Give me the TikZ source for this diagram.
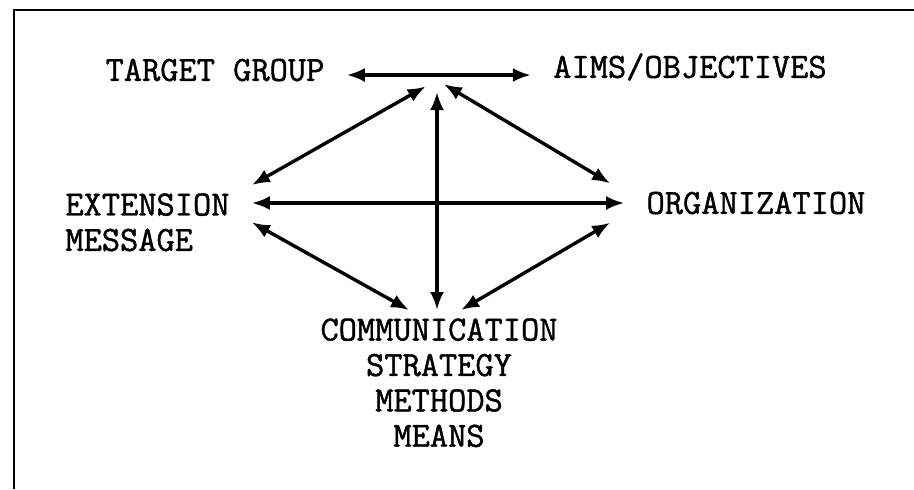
\documentclass[tikz,border=0pt]{standalone}
\usepackage{fontspec}
\newfontfamily\typefont[FakeBold=1.2]{Latin Modern Mono}
\usetikzlibrary{arrows.meta}

\begin{document}
\begin{tikzpicture}[
      x=0.5pt, y=-0.5pt,
      txt/.style={font=\typefont\fontsize{17.7pt}{17.7pt}\selectfont, inner xsep=11pt, inner ysep=4pt},
      line/.style={{Latex[length=9pt,width=7pt]}-{Latex[length=9pt,width=7pt]}, line width=1.7pt},
      frame/.style={line width=1.3pt}
    ]
    \useasboundingbox (0,0) rectangle (914,489);
    \draw[frame] (14,489) -- (14,10) -- (914,10);

    \node[txt] (target) at (215,70) {TARGET GROUP};
    \node[txt] (aims) at (690,67) {AIMS/OBJECTIVES};
    \node[txt, align=left, anchor=north west] (ext) at (43,185) {EXTENSION\\MESSAGE};
    \node[txt] (org) at (756,203) {ORGANIZATION};
    \node[txt, align=center, anchor=north] (comm) at (439,310) {COMMUNICATION\\STRATEGY\\METHODS\\MEANS};
    \coordinate (hub) at (437,80);

    \draw[line] ([yshift=-2.5pt]target.east) -- ([yshift=-2.5pt]target.east -| aims.west);
    \draw[line, shorten <=6.5pt] (hub) -- (ext.north east);
    \draw[line, shorten <=6pt] (hub) -- (hub |- comm.north);
    \draw[line, shorten <=4pt] (hub) -- ([xshift=-7pt]org.north west);
    \draw[line] (ext.east |- org.west) -- (org.west);
    \draw[line] (ext.east) -- ([xshift=-15pt]comm.north);
    \draw[line] ([xshift=-7pt]org.south west) -- ([xshift=11pt]comm.north);
  \end{tikzpicture}
\end{document}
